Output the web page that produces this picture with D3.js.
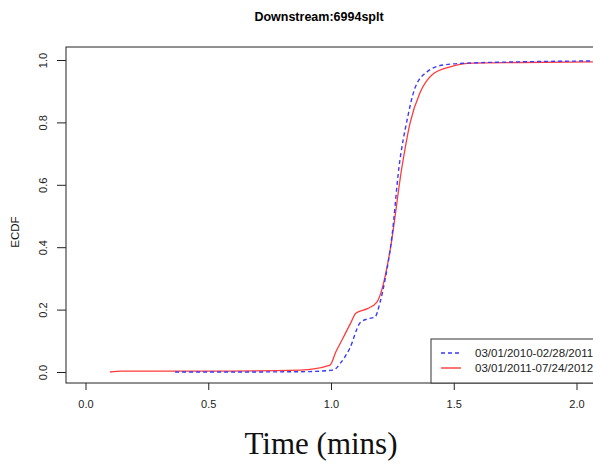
<!DOCTYPE html>
<html><head><meta charset="utf-8">
<script src="https://cdn.jsdelivr.net/npm/d3@7"></script>
<style>body{margin:0;background:#fff}svg{display:block}</style>
</head><body>
<script>
const title = "Downstream:6994splt";
const xLabel = "Time (mins)";
const yLabel = "ECDF";
const xTicks = [0.0, 0.5, 1.0, 1.5, 2.0];
const yTicks = [0.0, 0.2, 0.4, 0.6, 0.8, 1.0];
const seriesNames = ["03/01/2010-02/28/2011", "03/01/2011-07/24/2012"];
// series 1 (blue dashed)
const blueX = [0.365, 0.588, 0.882, 1.008, 1.040, 1.077, 1.118, 1.148, 1.179, 1.199, 1.220, 1.248, 1.277, 1.310, 1.342, 1.391, 1.457, 1.555, 1.766, 2.067];
const blueY = [0.000, 0.000, 0.001, 0.006, 0.030, 0.077, 0.157, 0.170, 0.176, 0.221, 0.295, 0.433, 0.657, 0.808, 0.910, 0.962, 0.984, 0.990, 0.994, 0.997];
// series 2 (red solid)
const redX = [0.100, 0.145, 0.489, 0.874, 0.996, 1.020, 1.049, 1.079, 1.102, 1.148, 1.187, 1.204, 1.241, 1.289, 1.322, 1.362, 1.411, 1.485, 1.579, 1.766, 2.067];
const redY = [0.000, 0.003, 0.003, 0.006, 0.022, 0.065, 0.109, 0.155, 0.189, 0.203, 0.224, 0.256, 0.391, 0.657, 0.798, 0.894, 0.952, 0.978, 0.990, 0.992, 0.994];

const W = 593, H = 465;
const svg = d3.select("body").append("svg").attr("width", W).attr("height", H);
const box = {l: 66, t: 47, r: 640, b: 383};
const x = d3.scaleLinear().domain([0, 2]).range([85.5, 576.5]);
const y = d3.scaleLinear().domain([0, 1]).range([372, 60]);

const font = "'Liberation Sans', Arial, Helvetica, sans-serif";

svg.append("text").attr("x", 319).attr("y", 21).attr("text-anchor", "middle")
  .attr("font-family", font).attr("font-weight", "bold").attr("font-size", 12.5).text(title);

// lines
const line = d3.line().x(d => x(d[0])).y(d => y(d[1])).curve(d3.curveMonotoneX);
const g = svg.append("g");
g.append("path").datum(redX.map((v, i) => [v, redY[i]]))
  .attr("d", line).attr("fill", "none").attr("stroke", "#ff3b3b").attr("stroke-width", 1.3);
g.append("path").datum(blueX.map((v, i) => [v, blueY[i]]))
  .attr("d", line).attr("fill", "none").attr("stroke", "#3939ff").attr("stroke-width", 1.4)
  .attr("stroke-dasharray", "4,3");

// frame
svg.append("rect").attr("x", box.l).attr("y", box.t).attr("width", box.r - box.l).attr("height", box.b - box.t)
  .attr("fill", "none").attr("stroke", "#222").attr("stroke-width", 1);

// x axis
const xAxis = d3.axisBottom(x).tickValues(xTicks).tickFormat(d3.format(".1f")).tickSize(7).tickPadding(10);
const xg = svg.append("g").attr("transform", `translate(0,${box.b})`).call(xAxis);
xg.select(".domain").remove();
xg.selectAll("line").attr("stroke", "#222");
xg.selectAll("text").attr("font-family", font).attr("font-size", 11).attr("fill", "#222");

// y axis
const yAxis = d3.axisLeft(y).tickValues(yTicks).tickFormat(d3.format(".1f")).tickSize(9).tickPadding(0);
const yg = svg.append("g").attr("transform", `translate(${box.l},0)`).call(yAxis);
yg.select(".domain").remove();
yg.selectAll("line").attr("stroke", "#222");
yg.selectAll("text").attr("font-family", font).attr("font-size", 11).attr("fill", "#222")
  .attr("x", null).attr("text-anchor", "middle")
  .attr("transform", `translate(-23,0) rotate(-90)`).attr("y", 0).attr("dy", "0.35em");

svg.append("text").attr("transform", "translate(19,232) rotate(-90)").attr("text-anchor", "middle")
  .attr("font-family", font).attr("font-size", 11.5).attr("fill", "#111").text(yLabel);

svg.append("text").attr("x", 321).attr("y", 454).attr("text-anchor", "middle")
  .attr("font-family", "'Liberation Serif', 'Times New Roman', serif").attr("font-size", 31).attr("fill", "#111").text(xLabel);

// legend
const lg = svg.append("g");
lg.append("rect").attr("x", 431).attr("y", 339).attr("width", 200).attr("height", box.b - 339)
  .attr("fill", "#fff").attr("stroke", "#333").attr("stroke-width", 1);
const legendItems = [
  {name: seriesNames[0], color: "#3939ff", dash: "4,3"},
  {name: seriesNames[1], color: "#ff3b3b", dash: null}
];
legendItems.forEach((it, i) => {
  const yy = 353 + i * 15;
  lg.append("line").attr("x1", 441).attr("x2", 461).attr("y1", yy).attr("y2", yy)
    .attr("stroke", it.color).attr("stroke-width", 1.4).attr("stroke-dasharray", it.dash);
  lg.append("text").attr("x", 475).attr("y", yy + 4).attr("font-family", font).attr("font-size", 11.5)
    .attr("fill", "#222").text(it.name);
});
</script>
</body></html>
